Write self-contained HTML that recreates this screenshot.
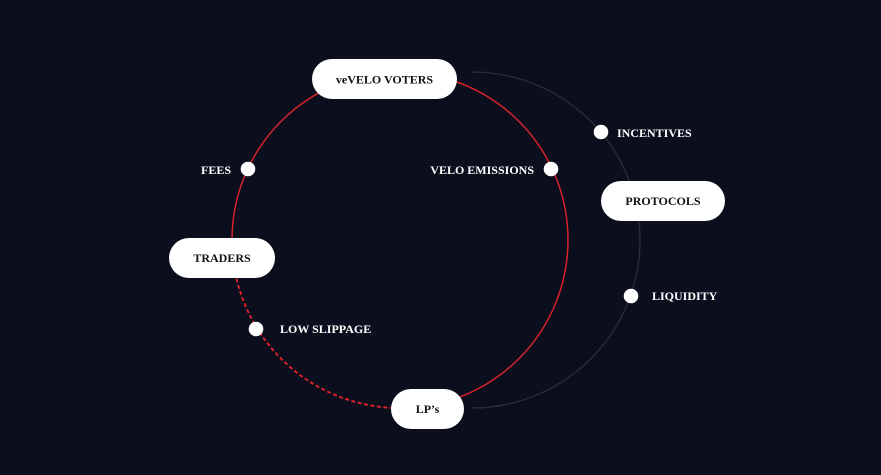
<!DOCTYPE html>
<html>
<head>
<meta charset="utf-8">
<style>
  html, body { margin:0; padding:0; background:#0a0e1d; }
  body { width:881px; height:475px; overflow:hidden; }
  svg { display:block; }
  text { font-family: "Liberation Serif", serif; font-weight:bold; font-size:12px; }
</style>
</head>
<body>
<svg width="881" height="475" viewBox="0 0 881 475" xmlns="http://www.w3.org/2000/svg">
  <rect x="0" y="0" width="881" height="475" fill="#0a0e1d"/>

  <!-- gray right-half circle -->
  <path d="M472 72 A168 168 0 0 1 472 408" fill="none" stroke="#2a2e3d" stroke-width="1.3"/>

  <!-- red circle: solid part (bottom -> right -> top -> left) -->
  <path d="M400 408 A168 168 0 0 0 400 72 A168 168 0 0 0 232 240" fill="none" stroke="#e0232b" stroke-width="1.4"/>
  <!-- red dashed part (left -> bottom) -->
  <path d="M232 240 A168 168 0 0 0 400 408" fill="none" stroke="#e0232b" stroke-width="1.9" stroke-dasharray="4 2.5"/>

  <!-- pills -->
  <rect x="312" y="59" width="145" height="40" rx="20" ry="20" fill="#ffffff"/>
  <text x="384.5" y="83.5" text-anchor="middle" fill="#111111">veVELO VOTERS</text>

  <rect x="601" y="181" width="124" height="40" rx="20" ry="20" fill="#ffffff"/>
  <text x="663" y="205" text-anchor="middle" fill="#111111">PROTOCOLS</text>

  <rect x="169" y="238" width="106" height="40" rx="20" ry="20" fill="#ffffff"/>
  <text x="222" y="262" text-anchor="middle" fill="#111111">TRADERS</text>

  <rect x="391" y="389" width="73" height="40" rx="20" ry="20" fill="#ffffff"/>
  <text x="427.5" y="413" text-anchor="middle" fill="#111111">LP’s</text>

  <!-- dots -->
  <circle cx="248" cy="169" r="7.3" fill="#ffffff"/>
  <circle cx="551" cy="169" r="7.3" fill="#ffffff"/>
  <circle cx="601" cy="132" r="7.3" fill="#ffffff"/>
  <circle cx="631" cy="296" r="7.3" fill="#ffffff"/>
  <circle cx="256" cy="329" r="7.3" fill="#ffffff"/>

  <!-- labels -->
  <text x="231" y="174" text-anchor="end" fill="#ffffff">FEES</text>
  <text x="534" y="174" text-anchor="end" fill="#ffffff">VELO EMISSIONS</text>
  <text x="617" y="137" fill="#ffffff">INCENTIVES</text>
  <text x="652" y="300" fill="#ffffff">LIQUIDITY</text>
  <text x="280" y="333" fill="#ffffff">LOW SLIPPAGE</text>
</svg>
</body>
</html>
